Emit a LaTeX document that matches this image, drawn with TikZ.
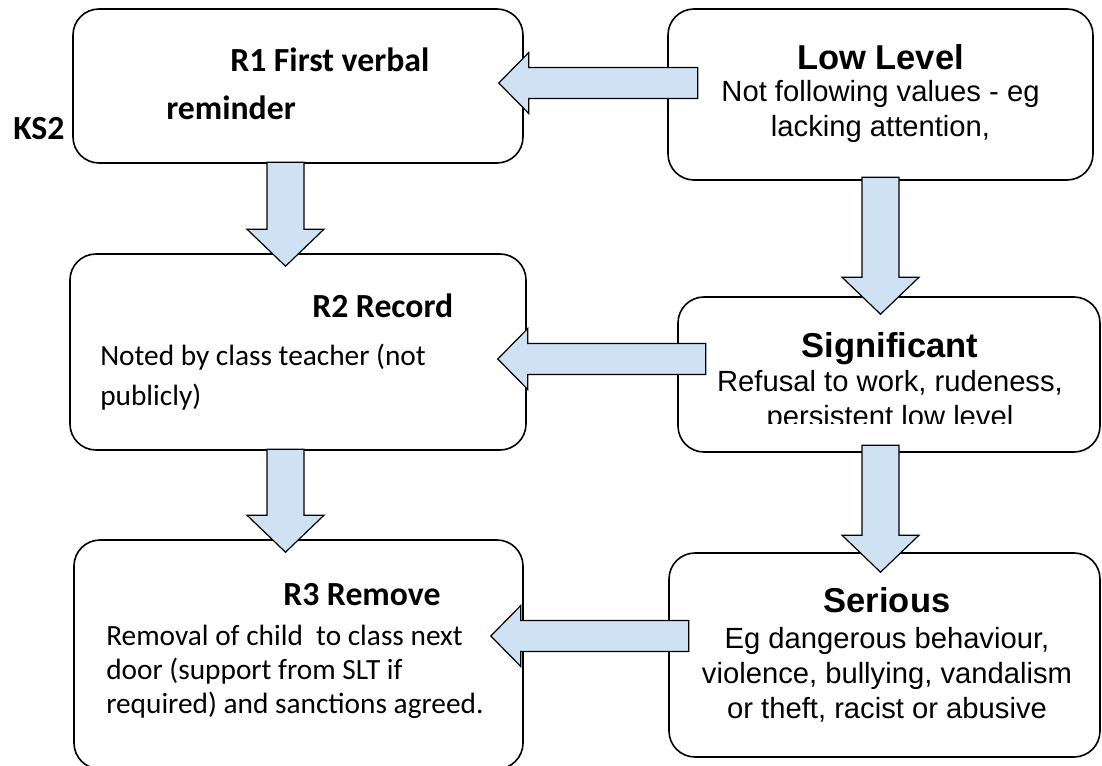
\documentclass[tikz,border=0pt]{standalone}
\usepackage{fontspec}
\setmainfont{Carlito}
\newfontfamily\arialfont{Liberation Sans}

\definecolor{arrowblue}{HTML}{CFE2F3}

\tikzset{
  box/.style={draw, line width=1.2pt, rounded corners=19.5pt, inner sep=0pt},
  blockarrow/.style={draw, line width=0.9pt, fill=arrowblue, miter limit=4},
  ltitle/.style={anchor=base west, inner sep=0pt, font=\bfseries\fontsize{25.3pt}{30pt}\selectfont},
  ltext/.style={anchor=base west, inner sep=0pt, font=\fontsize{22pt}{26pt}\selectfont},
  rtitle/.style={anchor=base, inner sep=0pt, font=\arialfont\bfseries\fontsize{25.9pt}{30pt}\selectfont},
  rtext/.style={anchor=base, inner sep=0pt, font=\arialfont\fontsize{21.9pt}{26pt}\selectfont},
}

% block arrows drawn back from the tip: #1 tip coordinate, #2 shaft length
\newcommand{\leftblock}[2]{\draw[blockarrow] (#1) -- ++(30,-30.5) -- ++(0,15) -- ++(#2,0)
  -- ++(0,31) -- ++(-#2,0) -- ++(0,15) -- cycle;}
\newcommand{\downblock}[2]{\draw[blockarrow] (#1) -- ++(38.5,-37) -- ++(-20,0) -- ++(0,-#2)
  -- ++(-37,0) -- ++(0,#2) -- ++(-20,0) -- cycle;}

\begin{document}
\begin{tikzpicture}[x=0.75pt, y=-0.75pt]
    \useasboundingbox (0,0) rectangle (1102,766);

    % boxes
    \node (r1) [box, minimum width=337.5pt, minimum height=115.5pt] at (298,86) {};
    \node (low) [box, minimum width=318.75pt, minimum height=128.25pt] at (880.5,94.5) {};
    \node (r2) [box, minimum width=342pt, minimum height=147pt] at (298,352) {};
    \node (sig) [box, minimum width=316.5pt, minimum height=116.25pt] at (889,374.5) {};
    \node (r3) [box, minimum width=336.75pt, minimum height=171.75pt] at (298.5,654.5) {};
    \node (ser) [box, minimum width=323.25pt, minimum height=153pt] at (884.5,655) {};

    % left column text
    \node (ks) [ltitle] at (13,140) {KS2};
    \node (r1a) [ltitle] at (230,72) {R1 First verbal};
    \node (r1b) [ltitle] at (166,120) {reminder};
    \node (r2a) [ltitle] at (312,318) {R2 Record};
    \node (r2b) [ltext] at (100,365) {Noted by class teacher (not};
    \node (r2c) [ltext] at (100,405) {publicly)};
    \node (r3a) [ltitle] at (283,605) {R3 Remove};
    \node (r3b) [ltext] at (106,645) {Removal of child\ \ to class next};
    \node (r3c) [ltext] at (106,679) {door (support from SLT if};
    \node (r3d) [ltext] at (106,713) {required) and sanctions agreed.};

    % right column text
    \node (lowa) [rtitle] at (880.5,70) {Low Level};
    \node (lowb) [rtext] at (880.5,102) {Not following values - eg};
    \node (lowc) [rtext] at (880.5,137) {lacking attention,};
    \node (siga) [rtitle] at (890,357) {Significant};
    \node (sigb) [rtext] at (890,391) {Refusal to work, rudeness,};
    \begin{scope}
        \clip (680,300) rectangle (1098,423);
        \node (sigc) [rtext] at (890,426) {persistent low level};
    \end{scope}
    \node (sera) [rtitle] at (887,612) {Serious};
    \node (serb) [rtext] at (887,648) {Eg dangerous behaviour,};
    \node (serc) [rtext] at (887,683) {violence, bullying, vandalism};
    \node (serd) [rtext] at (887,718) {or theft, racist or abusive};

    % arrow tips, set off from the boxes they point into
    \coordinate (low2r1) at ([shift={(-25,-3)}]r1.east);
    \coordinate (sig2r2) at ([shift={(-29,7)}]r2.east);
    \coordinate (ser2r3) at ([shift={(-33,-18.5)}]r3.east);
    \coordinate (r12r2) at ([shift={(-12.5,13)}]r2.north);
    \coordinate (r22r3) at ([shift={(-13,13)}]r3.north);
    \coordinate (low2sig) at ([shift={(-8.5,18)}]sig.north);
    \coordinate (sig2ser) at ([shift={(-4,20)}]ser.north);

    % block arrows
    \leftblock{low2r1}{169}
    \leftblock{sig2r2}{178}
    \leftblock{ser2r3}{168}
    \downblock{r12r2}{67}
    \downblock{r22r3}{66}
    \downblock{low2sig}{100}
    \downblock{sig2ser}{90}
\end{tikzpicture}
\end{document}
